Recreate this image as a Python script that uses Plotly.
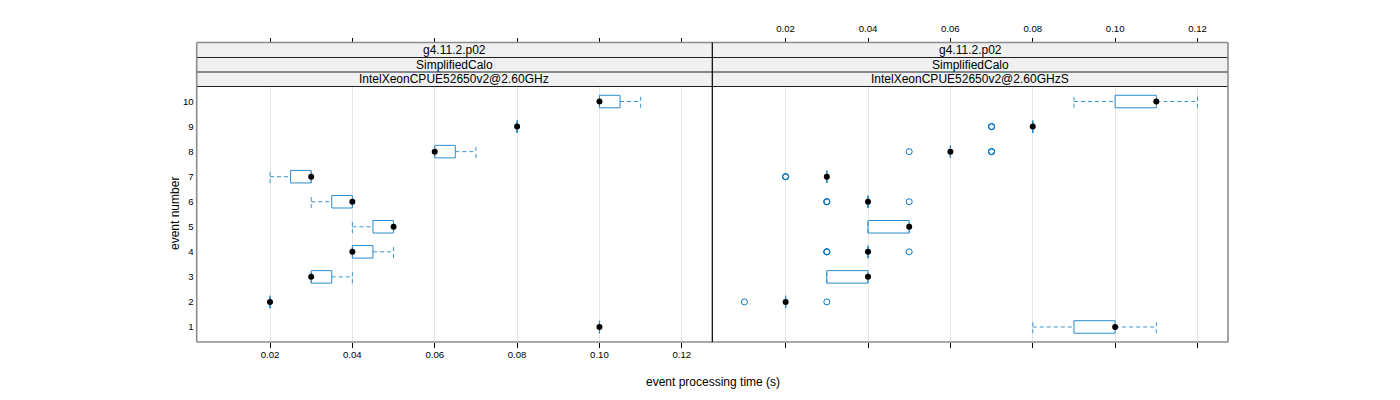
import plotly.graph_objects as go

# ---------------- data ----------------
events = [1, 2, 3, 4, 5, 6, 7, 8, 9, 10]
strip_version = "g4.11.2.p02"
strip_config = "SimplifiedCalo"
panel_names = ["IntelXeonCPUE52650v2@2.60GHz", "IntelXeonCPUE52650v2@2.60GHzS"]
tick_vals = [0.02, 0.04, 0.06, 0.08, 0.10, 0.12]
tick_text = ["0.02", "0.04", "0.06", "0.08", "0.10", "0.12"]
x_range = [0.0022, 0.1274]

# panel 1: IntelXeonCPUE52650v2@2.60GHz  (whisker low, q1, median, q3, whisker high)
ghz_lo = [0.10, 0.02, 0.03, 0.04, 0.04, 0.03, 0.02, 0.06, 0.08, 0.10]
ghz_q1 = [0.10, 0.02, 0.03, 0.04, 0.045, 0.035, 0.025, 0.06, 0.08, 0.10]
ghz_med = [0.10, 0.02, 0.03, 0.04, 0.05, 0.04, 0.03, 0.06, 0.08, 0.10]
ghz_q3 = [0.10, 0.02, 0.035, 0.045, 0.05, 0.04, 0.03, 0.065, 0.08, 0.105]
ghz_hi = [0.10, 0.02, 0.04, 0.05, 0.05, 0.04, 0.03, 0.07, 0.08, 0.11]
ghz_out_event = []
ghz_out_time = []

# panel 2: IntelXeonCPUE52650v2@2.60GHzS
ghzs_lo = [0.08, 0.02, 0.03, 0.04, 0.04, 0.04, 0.03, 0.06, 0.08, 0.09]
ghzs_q1 = [0.09, 0.02, 0.03, 0.04, 0.04, 0.04, 0.03, 0.06, 0.08, 0.10]
ghzs_med = [0.10, 0.02, 0.04, 0.04, 0.05, 0.04, 0.03, 0.06, 0.08, 0.11]
ghzs_q3 = [0.10, 0.02, 0.04, 0.04, 0.05, 0.04, 0.03, 0.06, 0.08, 0.11]
ghzs_hi = [0.11, 0.02, 0.04, 0.04, 0.05, 0.04, 0.03, 0.06, 0.08, 0.12]
ghzs_out_event = [2, 2, 4, 4, 4, 4, 6, 6, 6, 6, 7, 7, 7, 8, 8, 8, 8, 9, 9, 9]
ghzs_out_time = [0.01, 0.03, 0.03, 0.03, 0.03, 0.05, 0.03, 0.03, 0.03, 0.05,
                 0.02, 0.02, 0.02, 0.05, 0.07, 0.07, 0.07, 0.07, 0.07, 0.07]

# ---------------- style ----------------
FONT = "Liberation Sans, Arial, Helvetica, sans-serif"
BOX_COL = "#2a8ccc"
UMB_COL = "#3a95d0"
OUT_COL = "#0a78c0"
HALF = 0.25
W = 1400.0
H = 400.0
OFF = 8.0  # page body margin
left_px = [196.7, 712.3]
right_px = [712.3, 1228.0]
panel_top_px, panel_bot_px = 86.5, 342.0
strip_px = [42.5, 57.5, 72.0, 86.5]


def px_x(p):
    return (p - OFF) / W


def px_y(p):
    return (H - (p - OFF)) / H


fig = go.Figure()

panels = [
    ("x", ghz_lo, ghz_q1, ghz_med, ghz_q3, ghz_hi, ghz_out_event, ghz_out_time),
    ("x2", ghzs_lo, ghzs_q1, ghzs_med, ghzs_q3, ghzs_hi, ghzs_out_event, ghzs_out_time),
]

for xa, lo, q1, med, q3, hi, oe, ot in panels:
    wx, wy = [], []
    bx, by = [], []
    for e, a, b, m, c, d in zip(events, lo, q1, med, q3, hi):
        # whiskers + caps
        wx += [a, b, None, c, d, None, a, a, None, d, d, None]
        wy += [e, e, None, e, e, None, e - HALF, e + HALF, None, e - HALF, e + HALF, None]
        # box
        bx += [b, c, c, b, b, None]
        by += [e - HALF, e - HALF, e + HALF, e + HALF, e - HALF, None]
    fig.add_trace(go.Scatter(x=wx, y=wy, xaxis=xa, yaxis="y", mode="lines",
                             line=dict(color=UMB_COL, width=1, dash="4px,3px"),
                             hoverinfo="skip", showlegend=False))
    fig.add_trace(go.Scatter(x=bx, y=by, xaxis=xa, yaxis="y", mode="lines",
                             line=dict(color=BOX_COL, width=1),
                             hoverinfo="skip", showlegend=False))
    if ot:
        fig.add_trace(go.Scatter(x=ot, y=oe, xaxis=xa, yaxis="y", mode="markers",
                                 marker=dict(symbol="circle-open", size=6, color=OUT_COL,
                                             line=dict(width=1, color=OUT_COL)),
                                 showlegend=False))
    fig.add_trace(go.Scatter(x=med, y=events, xaxis=xa, yaxis="y", mode="markers",
                             marker=dict(symbol="circle", size=6, color="black"),
                             showlegend=False))

ydom = [px_y(panel_bot_px), px_y(panel_top_px)]
top_pos = px_y(strip_px[0])
tickfont = dict(family=FONT, size=9.6, color="black")

common_x = dict(range=x_range, tickvals=tick_vals, ticktext=tick_text, tickfont=tickfont,
                ticks="outside", ticklen=5, tickcolor="black", tickwidth=1,
                showline=False, zeroline=False, fixedrange=True)

fig.update_layout(
    width=1400, height=400,
    margin=dict(l=0, r=0, t=0, b=0),
    paper_bgcolor="white", plot_bgcolor="white",
    font=dict(family=FONT, color="black"),
    showlegend=False,
    xaxis=dict(domain=[px_x(left_px[0]), px_x(left_px[1])], anchor="y", side="bottom",
               showgrid=True, gridcolor="#e6e6e6", gridwidth=1, showticklabels=True,
               ticklabelstandoff=-2, **common_x),
    xaxis2=dict(domain=[px_x(right_px[0]), px_x(right_px[1])], anchor="y", side="bottom",
                showgrid=True, gridcolor="#e6e6e6", gridwidth=1, showticklabels=False, **common_x),
    xaxis3=dict(overlaying="x", anchor="free", position=top_pos, side="top",
                showgrid=False, showticklabels=False, **common_x),
    xaxis4=dict(overlaying="x2", anchor="free", position=top_pos, side="top",
                showgrid=False, showticklabels=True, ticklabelstandoff=2, **common_x),
    yaxis=dict(domain=ydom, anchor="x", range=[0.4, 10.6], tickvals=events,
               ticktext=[str(e) for e in events], ticks="", showgrid=False,
               zeroline=False, showline=False, tickfont=tickfont,
               ticklabelstandoff=2, fixedrange=True),
)

# dummy traces so overlay axes render
fig.add_trace(go.Scatter(x=[None], y=[None], xaxis="x3", yaxis="y", showlegend=False))
fig.add_trace(go.Scatter(x=[None], y=[None], xaxis="x4", yaxis="y", showlegend=False))

shapes = []
x0, x1, x2 = px_x(left_px[0]), px_x(left_px[1]), px_x(right_px[1])
# strip backgrounds
shapes.append(dict(type="rect", xref="paper", yref="paper", x0=x0, x1=x2,
                   y0=px_y(strip_px[3]), y1=px_y(strip_px[0]),
                   fillcolor="#f0f0f0", line=dict(width=0), layer="below"))
# strip separators (dark)
for sp in strip_px[1:]:
    shapes.append(dict(type="line", xref="paper", yref="paper", x0=x0, x1=x2,
                       y0=px_y(sp), y1=px_y(sp), line=dict(color="#202020", width=1)))
# outer border gray
gray = dict(color="#8c8c8c", width=1.6)
shapes.append(dict(type="line", xref="paper", yref="paper", x0=x0, x1=x2,
                   y0=px_y(strip_px[0]), y1=px_y(strip_px[0]), line=gray))
shapes.append(dict(type="line", xref="paper", yref="paper", x0=x0, x1=x2,
                   y0=px_y(panel_bot_px), y1=px_y(panel_bot_px), line=gray))
shapes.append(dict(type="line", xref="paper", yref="paper", x0=x0, x1=x0,
                   y0=px_y(panel_bot_px), y1=px_y(strip_px[0]), line=gray))
shapes.append(dict(type="line", xref="paper", yref="paper", x0=x2, x1=x2,
                   y0=px_y(panel_bot_px), y1=px_y(strip_px[0]), line=gray))
# divider black
shapes.append(dict(type="line", xref="paper", yref="paper", x0=x1, x1=x1,
                   y0=px_y(panel_bot_px), y1=px_y(strip_px[0]), line=dict(color="black", width=1.2)))
fig.update_layout(shapes=shapes)

annotations = []
strip_font = dict(family=FONT, size=12, color="black")
for (a, b), name in zip([(x0, x1), (x1, x2)], panel_names):
    for i, txt in enumerate([strip_version, strip_config, name]):
        yc = (strip_px[i] + strip_px[i + 1]) / 2.0
        annotations.append(dict(x=(a + b) / 2, y=px_y(yc), xref="paper", yref="paper",
                                text=txt, showarrow=False, font=strip_font,
                                xanchor="center", yanchor="middle"))
annotations.append(dict(x=px_x(712.5), y=px_y(382), xref="paper", yref="paper",
                        text="event processing time (s)", showarrow=False,
                        font=dict(family=FONT, size=12, color="black"),
                        xanchor="center", yanchor="middle"))
annotations.append(dict(x=px_x(175), y=px_y(214), xref="paper", yref="paper",
                        text="event number", showarrow=False, textangle=-90,
                        font=dict(family=FONT, size=12, color="black"),
                        xanchor="center", yanchor="middle"))
fig.update_layout(annotations=annotations)

fig.write_html("out.html")
